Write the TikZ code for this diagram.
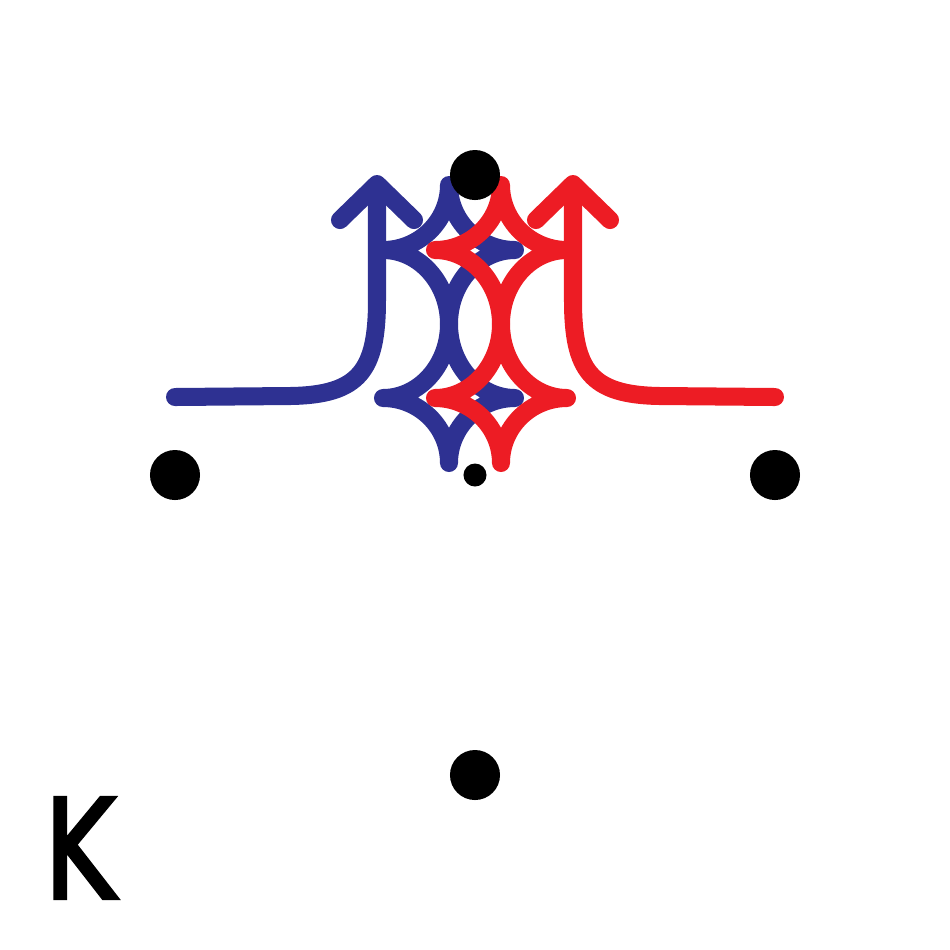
\documentclass[tikz,border=0pt]{standalone}
\usepackage{fontspec}
\newfontfamily\letterfont{DejaVu Sans}[FakeBold=3]
\usetikzlibrary{arrows.meta}

\definecolor{fluxblue}{RGB}{46,49,146}
\definecolor{fluxred}{RGB}{237,28,36}

\begin{document}
\begin{tikzpicture}[
  x=0.01cm, y=-0.01cm,
  flow/.style    ={line width=1.8mm, line cap=round, line join=round},
  blueflow/.style={flow, draw=fluxblue},
  redflow/.style ={flow, draw=fluxred},
  barb/.style    ={-{Straight Barb[length=3.6mm, width=7.4mm, line cap=round, line join=round]}},
  dot/.style     ={circle, fill=black, inner sep=0pt, minimum size=5mm},
  label/.style   ={font=\letterfont\fontsize{39}{39}\selectfont, inner sep=0pt}
]
  \useasboundingbox (0,0) rectangle (950,950);

  % end points of the two flows
  \coordinate (bluein)  at (175,397);
  \coordinate (bluetip) at (377,175);
  \coordinate (redin)   at (775,397);
  \coordinate (redtip)  at (573,175);

  % cusped stars, blue first so the red ones lie on top
  \foreach \clr/\cx in {blueflow/449, redflow/501}
    \foreach \cy/\bt/\bb in {250/65/74, 398/74/65}
      \draw[\clr] (\cx-66,\cy)
        arc[start angle=90,  end angle=0,   x radius=66, y radius=\bt]
        arc[start angle=180, end angle=90,  x radius=66, y radius=\bt]
        arc[start angle=270, end angle=180, x radius=66, y radius=\bb]
        arc[start angle=0,   end angle=-90, x radius=66, y radius=\bb] -- cycle;

  \draw[blueflow, barb] (bluein) -- (290,396)
    .. controls (360,395) and (377,370) .. (377,300) -- (bluetip);
  \draw[redflow, barb]  (redin) -- (660,396)
    .. controls (590,395) and (573,370) .. (573,300) -- (redtip);

  \node[dot] (dotn) at (475,175) {};
  \node[dot] (dotw) at (175,475) {};
  \node[dot] (dote) at (775,475) {};
  \node[dot] (dots) at (475,775) {};
  \node[dot, minimum size=2.3mm] (dotc) at (475,475) {};

  \node[label, xscale=0.78, anchor=base west] (letter) at (44,898) {K};
\end{tikzpicture}
\end{document}
